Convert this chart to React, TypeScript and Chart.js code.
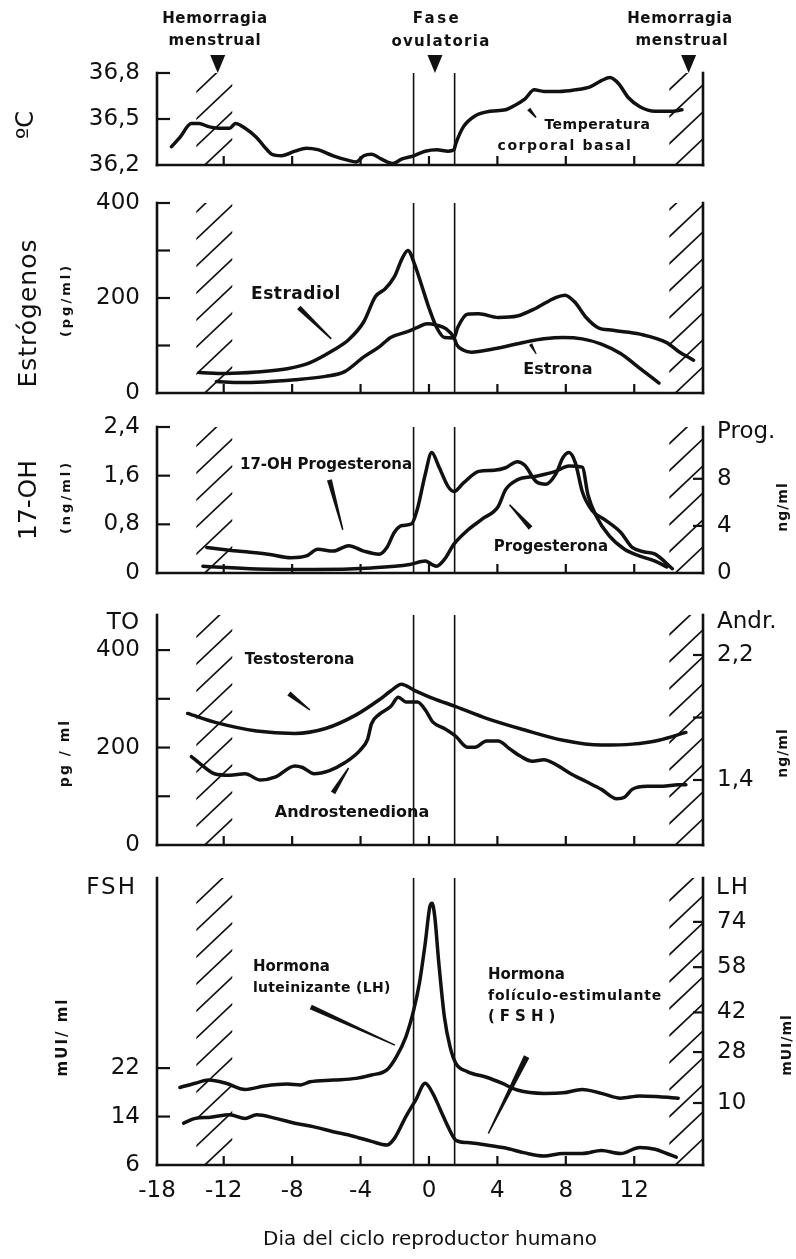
import React, { useEffect, useRef } from "react";
import { Chart, registerables } from "chart.js";

Chart.register(...registerables);

/* ---------------- shared x axis: day of the cycle ---------------- */
const X_MIN = -15.9;
const X_MAX = 16.02;
const X_TICK_VALUES = [-15.9, -12, -8, -4, 0, 4, 8, 12];
const X_TICK_LABELS = ["-18", "-12", "-8", "-4", "0", "4", "8", "12"];
const X_TITLE = "Dia del ciclo reproductor humano";
const OVULATION_BOUNDS = [-0.9, 1.5];
const OVULATION_MARK = 0.35;
const MENSES_START = [-13.6, -11.5];
const MENSES_END = [14.05, 16.02];
const MENSES_MARKS = [-12.35, 15.18];

/* ---------------- basal temperature (ºC) ---------------- */
const TEMP_DAYS = [-15.05, -14.56, -13.89, -13.44, -12.88, -12.32, -11.65, -11.32, -10.75, -10.08, -9.63, -9.19, -8.63, -7.84, -7.17, -6.5, -5.6, -4.7, -4.26, -3.81, -3.36, -2.8, -2.13, -1.57, -0.89, -0.22, 0.45, 1.12, 1.46, 1.57, 2.02, 2.69, 3.58, 4.48, 5.04, 5.6, 6.16, 6.72, 7.62, 8.51, 9.42, 10.08, 10.58, 11.09, 11.65, 12.33, 13.22, 14.12, 14.79];
const TEMP_VALUES = [36.32, 36.38, 36.47, 36.47, 36.45, 36.44, 36.44, 36.47, 36.44, 36.38, 36.32, 36.27, 36.26, 36.29, 36.31, 36.3, 36.26, 36.23, 36.22, 36.26, 36.27, 36.24, 36.21, 36.24, 36.26, 36.29, 36.3, 36.29, 36.3, 36.34, 36.45, 36.52, 36.55, 36.56, 36.59, 36.63, 36.69, 36.68, 36.68, 36.69, 36.71, 36.75, 36.77, 36.73, 36.64, 36.58, 36.55, 36.55, 36.56];
const TEMP_TICKS = [36.2, 36.5, 36.8];
const TEMP_TICK_LABELS = ["36,2", "36,5", "36,8"];

/* ---------------- estrogens (pg/ml) ---------------- */
const ESTRADIOL_DAYS = [-13.44, -11.87, -10.08, -8.29, -6.95, -5.6, -4.7, -3.81, -3.13, -2.57, -2.02, -1.57, -1.23, -0.85, -0.44, 0, 0.45, 0.9, 1.46, 1.68, 2.24, 2.91, 4.04, 5.16, 6.28, 7.4, 7.95, 8.51, 9.19, 9.86, 10.75, 12.33, 13.9, 14.57, 15.47];
const ESTRADIOL_VALUES = [43, 41, 44, 51, 64, 90, 112, 150, 203, 219, 245, 283, 300, 272, 228, 179, 138, 117, 116, 138, 166, 167, 159, 162, 179, 201, 206, 192, 159, 138, 132, 124, 106, 88, 69];
const ESTRONA_DAYS = [-12.43, -11, -7.84, -6.05, -4.93, -3.81, -2.91, -2.24, -1.35, -0.67, -0.11, 0.45, 1.01, 1.46, 1.62, 2.02, 2.47, 3.81, 5.6, 6.72, 7.84, 8.96, 10.08, 11.2, 12.33, 13.45];
const ESTRONA_VALUES = [24, 22, 28, 35, 45, 76, 97, 117, 128, 138, 146, 143, 135, 117, 102, 90, 86, 93, 107, 114, 117, 114, 103, 83, 52, 21];
const EST_TICKS = [0, 100, 200, 300, 400];
const EST_TICK_LABELS = ["0", "", "200", "", "400"];

/* ---------------- 17-OH progesterone (ng/ml) and progesterone (ng/ml) ---------------- */
const OH17_DAYS = [-12.99, -11.2, -9.41, -8.07, -7.17, -6.5, -5.6, -4.7, -3.81, -2.91, -2.46, -2.02, -1.57, -1.01, -0.67, -0.22, 0.16, 0.56, 1.12, 1.46, 2.02, 2.91, 3.81, 4.48, 5.16, 5.6, 6.28, 6.84, 7.4, 7.84, 8.18, 8.56, 8.96, 9.53, 10.31, 11.2, 11.88, 12.55, 13.22, 14.23];
const OH17_VALUES = [0.42, 0.36, 0.31, 0.25, 0.28, 0.39, 0.36, 0.45, 0.36, 0.31, 0.42, 0.67, 0.78, 0.81, 1.06, 1.62, 1.98, 1.76, 1.42, 1.34, 1.48, 1.67, 1.69, 1.73, 1.83, 1.77, 1.5, 1.46, 1.62, 1.9, 1.98, 1.81, 1.34, 1.03, 0.87, 0.67, 0.42, 0.35, 0.31, 0.07];
const PROG_DAYS = [-13.22, -10.08, -6.72, -3.36, -1.12, -0.22, 0.18, 0.45, 0.9, 1.46, 2.24, 3.14, 4.04, 4.48, 5.16, 6.28, 7.4, 8.18, 8.96, 9.3, 9.75, 10.53, 11.43, 12.33, 13.22, 13.9];
const PROG_VALUES = [0.58, 0.35, 0.29, 0.43, 0.72, 1.01, 0.72, 0.58, 1.15, 2.45, 3.61, 4.61, 5.63, 7.08, 7.91, 8.22, 8.63, 9.09, 8.99, 6.61, 4.91, 3.17, 2.02, 1.44, 1.01, 0.52];
const OH17_TICKS = [0, 0.8, 1.6, 2.4];
const OH17_TICK_LABELS = ["0", "0,8", "1,6", "2,4"];
const PROG_TICKS = [0, 4, 8];
const PROG_TICK_LABELS = ["0", "4", "8"];

/* ---------------- testosterone (pg/ml) and androstenedione (ng/ml) ---------------- */
const TESTO_DAYS = [-14.11, -12.32, -10.08, -7.84, -6.05, -4.26, -2.91, -2.24, -1.61, -0.89, 0.23, 1.57, 3.36, 5.6, 7.84, 10.08, 11.88, 13.45, 15.02];
const TESTO_VALUES = [270, 250, 234, 229, 239, 267, 298, 316, 330, 318, 301, 284, 260, 236, 215, 205, 207, 215, 231];
const ANDRO_DAYS = [-13.89, -13.44, -12.54, -11.65, -10.75, -9.86, -8.96, -7.84, -7.39, -6.72, -5.82, -4.93, -4.03, -3.59, -3.36, -2.91, -2.24, -1.79, -1.35, -0.67, -0.22, 0.23, 0.9, 1.57, 2.24, 2.69, 3.36, 4.04, 4.71, 5.38, 6.05, 6.72, 7.4, 8.29, 9.19, 10.08, 10.98, 11.43, 11.88, 12.77, 13.67, 14.57, 15.02];
const ANDRO_VALUES = [1.55, 1.51, 1.44, 1.43, 1.44, 1.4, 1.42, 1.49, 1.48, 1.44, 1.46, 1.51, 1.59, 1.66, 1.76, 1.82, 1.87, 1.93, 1.9, 1.9, 1.85, 1.77, 1.73, 1.68, 1.61, 1.61, 1.65, 1.65, 1.6, 1.55, 1.52, 1.53, 1.5, 1.44, 1.39, 1.34, 1.28, 1.29, 1.34, 1.36, 1.36, 1.37, 1.37];
const TESTO_TICKS = [0, 100, 200, 300, 400];
const TESTO_TICK_LABELS = ["0", "", "200", "", "400"];
const ANDRO_TICKS = [1.4, 1.8, 2.2];
const ANDRO_TICK_LABELS = ["1,4", "", "2,2"];

/* ---------------- FSH and LH (mUI/ml) ---------------- */
const LH_DAYS = [-14.56, -13.67, -12.88, -11.87, -10.75, -9.63, -8.29, -7.5, -6.95, -5.6, -4.26, -3.36, -2.46, -1.9, -1.35, -0.89, -0.56, -0.22, 0.05, 0.18, 0.34, 0.56, 0.9, 1.23, 1.57, 2.24, 3.36, 4.26, 5.16, 6.72, 7.84, 8.96, 10.08, 11.2, 12.33, 13.45, 14.57];
const LH_VALUES = [15.5, 17.0, 18.1, 17.0, 14.8, 16.0, 16.7, 16.4, 17.5, 18.1, 18.7, 19.9, 21.7, 26.4, 33.4, 42.9, 52.3, 66.4, 79.4, 80.6, 75.8, 60.5, 40.5, 29.9, 24.0, 21.1, 19.1, 17.0, 14.6, 13.4, 13.6, 14.8, 13.4, 11.7, 12.5, 12.2, 11.7];
const FSH_DAYS = [-14.34, -13.67, -12.77, -11.65, -10.75, -10.08, -8.96, -7.84, -6.72, -5.6, -4.48, -3.36, -2.46, -2.02, -1.35, -0.78, -0.22, 0.23, 0.67, 1.12, 1.57, 2.24, 3.36, 4.48, 5.6, 6.72, 7.84, 8.96, 10.08, 11.2, 12.33, 13.22, 13.9, 14.46];
const FSH_VALUES = [12.9, 13.7, 13.9, 14.3, 13.7, 14.3, 13.7, 12.9, 12.3, 11.5, 10.8, 9.9, 9.3, 10.4, 14.0, 16.7, 19.5, 17.8, 15.1, 12.3, 10.1, 9.7, 9.3, 8.8, 8.0, 7.5, 7.9, 7.9, 8.4, 7.9, 8.9, 8.6, 7.9, 7.3];
const FSH_TICKS = [6, 14, 22];
const FSH_TICK_LABELS = ["6", "14", "22"];
const LH_TICKS = [10, 28, 42, 58, 74];
const LH_TICK_LABELS = ["10", "28", "42", "58", "74"];

/* ---------------- layout ---------------- */
const PAGE_W = 796;
const PAGE_H = 1259;
const PLOT_LEFT = 157;
const PLOT_RIGHT = 703;
const FONT = "'DejaVu Sans', Verdana, sans-serif";
const INK = "#111";

type Txt = { text: string; x: number; y: number; size: number; bold?: boolean; align?: CanvasTextAlign; rotate?: boolean; spacing?: number };
type Pointer = { from: [number, number]; to: [number, number]; w: [number, number] };
type AxisSpec = { min: number; max: number; ticks: number[]; labels: string[] };
type Series = { days: number[]; values: number[]; axis: "y" | "y2" };
type Panel = {
  top: number; height: number; padTop: number; padBottom: number;
  series: Series[]; y: AxisSpec; y2?: AxisSpec; showX: boolean; arrows: boolean;
  pageText: Txt[]; notes: Txt[]; pointers: Pointer[];
};

const PANELS: Panel[] = [
  {
    top: 0, height: 184, padTop: 73, padBottom: 19, showX: false, arrows: true,
    series: [{ days: TEMP_DAYS, values: TEMP_VALUES, axis: "y" }],
    y: { min: 36.2, max: 36.8, ticks: TEMP_TICKS, labels: TEMP_TICK_LABELS },
    pageText: [
      { text: "ºC", x: 27, y: 125, size: 24, rotate: true },
      { text: "Hemorragia", x: 215, y: 19, size: 15, bold: true, spacing: 0.6 },
      { text: "menstrual", x: 215, y: 41, size: 15, bold: true, spacing: 0.8 },
      { text: "Fase", x: 437, y: 19, size: 15, bold: true, spacing: 2.5 },
      { text: "ovulatoria", x: 441, y: 42, size: 15, bold: true, spacing: 1.3 },
      { text: "Hemorragia", x: 680, y: 19, size: 15, bold: true, spacing: 0.6 },
      { text: "menstrual", x: 682, y: 41, size: 15, bold: true, spacing: 0.8 },
    ],
    notes: [
      { text: "Temperatura", x: 9.85, y: 36.457, size: 14, bold: true, spacing: 0.5 },
      { text: "corporal basal", x: 7.95, y: 36.324, size: 14, bold: true, spacing: 1.6 },
    ],
    pointers: [{ from: [5.83, 36.565], to: [6.26, 36.51], w: [4, 1.5] }],
  },
  {
    top: 184, height: 226, padTop: 19, padBottom: 17, showX: false, arrows: false,
    series: [
      { days: ESTRADIOL_DAYS, values: ESTRADIOL_VALUES, axis: "y" },
      { days: ESTRONA_DAYS, values: ESTRONA_VALUES, axis: "y" },
    ],
    y: { min: 0, max: 400, ticks: EST_TICKS, labels: EST_TICK_LABELS },
    pageText: [
      { text: "Estrógenos", x: 29, y: 313, size: 25, rotate: true, spacing: 1 },
      { text: "(pg/ml)", x: 67, y: 300, size: 13, bold: true, rotate: true, spacing: 3 },
    ],
    notes: [
      { text: "Estradiol", x: -7.78, y: 208, size: 17, bold: true, spacing: 0.5 },
      { text: "Estrona", x: 7.54, y: 48, size: 16, bold: true, spacing: 0 },
    ],
    pointers: [
      { from: [-7.61, 180], to: [-5.71, 114], w: [5, 1.5] },
      { from: [5.94, 103], to: [6.27, 82], w: [3.5, 1] },
    ],
  },
  {
    top: 410, height: 186, padTop: 17, padBottom: 23, showX: false, arrows: false,
    series: [
      { days: OH17_DAYS, values: OH17_VALUES, axis: "y" },
      { days: PROG_DAYS, values: PROG_VALUES, axis: "y2" },
    ],
    y: { min: 0, max: 2.4, ticks: OH17_TICKS, labels: OH17_TICK_LABELS },
    y2: { min: 0, max: 12.4, ticks: PROG_TICKS, labels: PROG_TICK_LABELS },
    pageText: [
      { text: "17-OH", x: 29, y: 500, size: 25, rotate: true },
      { text: "(ng/ml)", x: 67, y: 497, size: 13, bold: true, rotate: true, spacing: 3 },
      { text: "Prog.", x: 717, y: 432, size: 23, align: "left" },
      { text: "ng/ml", x: 783, y: 507, size: 14, bold: true, rotate: true, spacing: 1 },
    ],
    notes: [
      { text: "17-OH Progesterona", x: -6.02, y: 1.775, size: 15, bold: true },
      { text: "Progesterona", x: 7.13, y: 0.43, size: 15, bold: true },
    ],
    pointers: [
      { from: [-5.82, 1.53], to: [-5.04, 0.71], w: [5, 1.5] },
      { from: [4.71, 1.12], to: [5.94, 0.74], w: [1.5, 5] },
    ],
  },
  {
    top: 596, height: 266, padTop: 19, padBottom: 17, showX: false, arrows: false,
    series: [
      { days: TESTO_DAYS, values: TESTO_VALUES, axis: "y" },
      { days: ANDRO_DAYS, values: ANDRO_VALUES, axis: "y2" },
    ],
    y: { min: 0, max: 472, ticks: TESTO_TICKS, labels: TESTO_TICK_LABELS },
    y2: { min: 0.984, max: 2.456, ticks: ANDRO_TICKS, labels: ANDRO_TICK_LABELS },
    pageText: [
      { text: "TO", x: 139, y: 623, size: 23, align: "right" },
      { text: "pg / ml", x: 65, y: 753, size: 14, bold: true, rotate: true, spacing: 2 },
      { text: "Andr.", x: 717, y: 622, size: 23, align: "left" },
      { text: "ng/ml", x: 783, y: 753, size: 14, bold: true, rotate: true, spacing: 1 },
    ],
    notes: [
      { text: "Testosterona", x: -7.56, y: 379, size: 15, bold: true },
      { text: "Androstenediona", x: -4.5, y: 66, size: 16, bold: true },
    ],
    pointers: [
      { from: [-8.19, 311], to: [-6.96, 277], w: [5, 1.5] },
      { from: [-4.7, 158], to: [-5.61, 107], w: [1.5, 5] },
    ],
  },
  {
    top: 862, height: PAGE_H - 862, padTop: 16, padBottom: 0, showX: true, arrows: false,
    series: [
      { days: LH_DAYS, values: LH_VALUES, axis: "y2" },
      { days: FSH_DAYS, values: FSH_VALUES, axis: "y" },
    ],
    y: { min: 6, max: 53.4, ticks: FSH_TICKS, labels: FSH_TICK_LABELS },
    y2: { min: -11.9, max: 89.5, ticks: LH_TICKS, labels: LH_TICK_LABELS },
    pageText: [
      { text: "FSH", x: 137, y: 888, size: 23, align: "right", spacing: 2 },
      { text: "mUI/ ml", x: 63, y: 1037, size: 15, bold: true, rotate: true, spacing: 2 },
      { text: "LH", x: 716, y: 888, size: 23, align: "left", spacing: 2 },
      { text: "mUI/ml", x: 787, y: 1045, size: 14, bold: true, rotate: true, spacing: 1 },
    ],
    notes: [
      { text: "Hormona", x: -10.29, y: 38.7, size: 15, bold: true, align: "left", spacing: 0 },
      { text: "luteinizante (LH)", x: -10.29, y: 35.2, size: 14, bold: true, align: "left", spacing: 0.3 },
      { text: "Hormona", x: 3.45, y: 37.35, size: 15, bold: true, align: "left", spacing: 0 },
      { text: "folículo-estimulante", x: 3.45, y: 33.8, size: 14, bold: true, align: "left", spacing: 0.8 },
      { text: "(FSH)", x: 3.45, y: 30.5, size: 15, bold: true, align: "left", spacing: 5 },
    ],
    pointers: [
      { from: [-6.91, 32.1], to: [-1.99, 25.8], w: [5, 1.5] },
      { from: [5.71, 23.9], to: [3.47, 11.2], w: [6, 1.5] },
    ],
  },
];

/* ---------------- drawing helpers ---------------- */
function drawText(ctx: CanvasRenderingContext2D, t: Txt, x: number, y: number) {
  ctx.save();
  ctx.font = `${t.bold ? "bold " : ""}${t.size}px ${FONT}`;
  ctx.fillStyle = INK;
  (ctx as any).letterSpacing = `${t.spacing ?? 0}px`;
  ctx.textAlign = t.align ?? "center";
  ctx.textBaseline = "middle";
  ctx.translate(x, y);
  if (t.rotate) ctx.rotate(-Math.PI / 2);
  ctx.fillText(t.text, 0, 0);
  ctx.restore();
}

function seg(ctx: CanvasRenderingContext2D, x1: number, y1: number, x2: number, y2: number) {
  ctx.beginPath();
  ctx.moveTo(x1, y1);
  ctx.lineTo(x2, y2);
  ctx.stroke();
}

function drawHatch(ctx: CanvasRenderingContext2D, x0: number, x1: number, top: number, bottom: number) {
  ctx.save();
  ctx.beginPath();
  ctx.rect(x0, top, x1 - x0, bottom - top);
  ctx.clip();
  ctx.lineWidth = 1.7;
  ctx.strokeStyle = INK;
  const w = x1 - x0;
  const rise = w * 1.0;
  const gap = 27;
  for (let yb = bottom + rise; yb > top - 2; yb -= gap) {
    seg(ctx, x0 - 1, yb, x1 + 1, yb - rise);
  }
  ctx.restore();
}

function drawWedge(ctx: CanvasRenderingContext2D, x1: number, y1: number, x2: number, y2: number, w1: number, w2: number) {
  const dx = x2 - x1;
  const dy = y2 - y1;
  const len = Math.hypot(dx, dy) || 1;
  const nx = -dy / len;
  const ny = dx / len;
  ctx.beginPath();
  ctx.moveTo(x1 + (nx * w1) / 2, y1 + (ny * w1) / 2);
  ctx.lineTo(x2 + (nx * w2) / 2, y2 + (ny * w2) / 2);
  ctx.lineTo(x2 - (nx * w2) / 2, y2 - (ny * w2) / 2);
  ctx.lineTo(x1 - (nx * w1) / 2, y1 - (ny * w1) / 2);
  ctx.closePath();
  ctx.fill();
}

function decorPlugin(p: Panel) {
  return {
    id: "panelDecor",
    beforeDatasetsDraw(chart: any) {
      const { ctx, chartArea: a, scales } = chart;
      const xs = scales.x;
      ctx.save();
      for (const [s, e] of [MENSES_START, MENSES_END]) {
        drawHatch(ctx, xs.getPixelForValue(s), xs.getPixelForValue(e), a.top, a.bottom);
      }
      ctx.strokeStyle = INK;
      ctx.lineWidth = 1.6;
      for (const v of OVULATION_BOUNDS) {
        const px = xs.getPixelForValue(v);
        seg(ctx, px, a.top, px, a.bottom);
      }
      ctx.restore();
    },
    afterDraw(chart: any) {
      const { ctx, chartArea: a, scales } = chart;
      const xs = scales.x;
      const ys = scales.y;
      ctx.save();
      ctx.strokeStyle = INK;
      ctx.fillStyle = INK;
      ctx.lineCap = "square";
      // frame
      ctx.lineWidth = 2.6;
      seg(ctx, a.left, a.top, a.left, a.bottom);
      seg(ctx, a.left, a.bottom, a.right, a.bottom);
      seg(ctx, a.right, a.top, a.right, a.bottom);
      // inward ticks
      ctx.lineWidth = 2.2;
      ctx.lineCap = "butt";
      X_TICK_VALUES.forEach((v, i) => {
        if (i === 0) return;
        const px = xs.getPixelForValue(v);
        seg(ctx, px, a.bottom, px, a.bottom - 9);
      });
      p.y.ticks.forEach((v) => {
        if (v === p.y.min) return;
        const py = ys.getPixelForValue(v);
        seg(ctx, a.left, py, a.left + 13, py);
      });
      if (p.y2) {
        const y2 = scales.y2;
        p.y2.ticks.forEach((v) => {
          if (v === p.y2!.min) return;
          const py = y2.getPixelForValue(v);
          seg(ctx, a.right - 10, py, a.right, py);
        });
      }
      // arrows marking bleeding and ovulation
      if (p.arrows) {
        for (const v of [MENSES_MARKS[0], OVULATION_MARK, MENSES_MARKS[1]]) {
          const px = xs.getPixelForValue(v);
          ctx.beginPath();
          ctx.moveTo(px - 7.5, a.top - 18);
          ctx.lineTo(px + 7.5, a.top - 18);
          ctx.lineTo(px, a.top);
          ctx.closePath();
          ctx.fill();
        }
      }
      // pointers
      for (const ptr of p.pointers) {
        drawWedge(
          ctx,
          xs.getPixelForValue(ptr.from[0]), ys.getPixelForValue(ptr.from[1]),
          xs.getPixelForValue(ptr.to[0]), ys.getPixelForValue(ptr.to[1]),
          ptr.w[0], ptr.w[1]
        );
      }
      // notes in data coordinates
      for (const t of p.notes) {
        drawText(ctx, t, xs.getPixelForValue(t.x), ys.getPixelForValue(t.y));
      }
      // labels in page coordinates
      for (const t of p.pageText) {
        drawText(ctx, t, t.x, t.y - p.top);
      }
      ctx.restore();
    },
  };
}

function yAxis(spec: AxisSpec, position: "left" | "right", width: number, padding: number) {
  return {
    type: "linear",
    position,
    min: spec.min,
    max: spec.max,
    afterBuildTicks: (s: any) => {
      s.ticks = spec.ticks.map((v) => ({ value: v }));
    },
    afterFit: (s: any) => {
      s.width = width;
      s.paddingTop = 0;
      s.paddingBottom = 0;
    },
    grid: { display: false, drawTicks: false },
    border: { display: false },
    ticks: {
      autoSkip: false,
      padding,
      color: INK,
      font: { family: FONT, size: 23 },
      callback: (_v: any, i: number) => spec.labels[i] ?? "",
    },
  };
}

function buildConfig(p: Panel): any {
  const scales: any = {
    x: {
      type: "linear",
      min: X_MIN,
      max: X_MAX,
      display: p.showX,
      afterBuildTicks: (s: any) => {
        s.ticks = X_TICK_VALUES.map((v) => ({ value: v }));
      },
      afterFit: (s: any) => {
        s.height = p.showX ? 94 : 0;
        s.paddingLeft = 0;
        s.paddingRight = 0;
      },
      grid: { display: false, drawTicks: false },
      border: { display: false },
      ticks: {
        autoSkip: false,
        maxRotation: 0,
        padding: 12,
        color: INK,
        font: { family: FONT, size: 23 },
        callback: (_v: any, i: number) => X_TICK_LABELS[i] ?? "",
      },
      title: {
        display: true,
        text: X_TITLE,
        color: INK,
        font: { family: FONT, size: 20 },
        padding: { top: 0, bottom: 7 },
      },
    },
    y: yAxis(p.y, "left", PLOT_LEFT, 17),
  };
  if (p.y2) scales.y2 = yAxis(p.y2, "right", PAGE_W - PLOT_RIGHT, 14);
  return {
    type: "line",
    data: {
      datasets: p.series.map((s) => ({
        data: s.days.map((d, i) => ({ x: d, y: s.values[i] })),
        yAxisID: s.axis,
        borderColor: INK,
        borderWidth: 3.5,
        pointRadius: 0,
        fill: false,
        cubicInterpolationMode: "monotone",
        borderCapStyle: "round",
        borderJoinStyle: "round",
      })),
    },
    options: {
      animation: false,
      responsive: false,
      maintainAspectRatio: false,
      devicePixelRatio: 1,
      layout: { padding: { top: p.padTop, bottom: p.padBottom, left: 0, right: p.y2 ? 0 : PAGE_W - PLOT_RIGHT } },
      plugins: { legend: { display: false }, tooltip: { enabled: false }, title: { display: false } },
      scales,
    },
    plugins: [decorPlugin(p)],
  };
}

function PanelChart({ panel }: { panel: Panel }) {
  const ref = useRef<HTMLCanvasElement>(null);
  useEffect(() => {
    if (!ref.current) return;
    const chart = new Chart(ref.current, buildConfig(panel));
    return () => chart.destroy();
  }, [panel]);
  return (
    <canvas
      ref={ref}
      width={PAGE_W}
      height={panel.height}
      style={{ position: "absolute", left: 0, top: panel.top, width: PAGE_W, height: panel.height, display: "block" }}
    />
  );
}

export default function App() {
  return (
    <div style={{ position: "absolute", left: 0, top: 0, width: PAGE_W, height: PAGE_H, background: "#fff", overflow: "hidden" }}>
      {PANELS.map((p, i) => (
        <PanelChart key={i} panel={p} />
      ))}
    </div>
  );
}
